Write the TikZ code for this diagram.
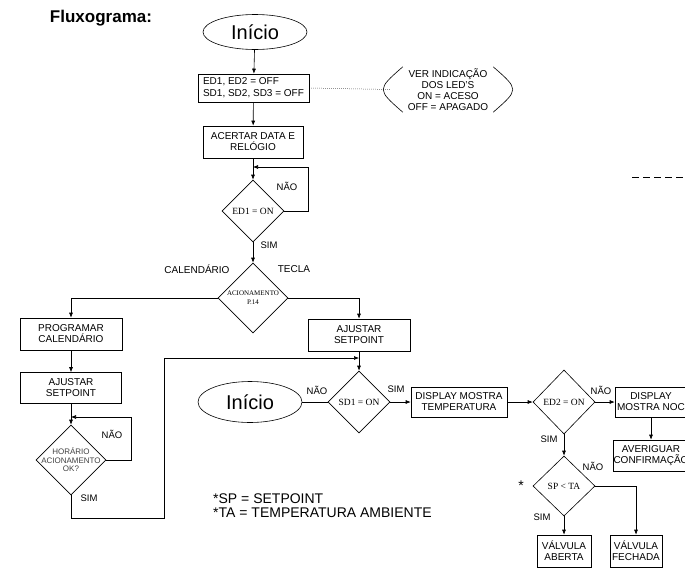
\documentclass[tikz,border=0pt]{standalone}
\usepackage{fontspec}
\setmainfont{Liberation Sans}
\newfontfamily\serifa{Liberation Serif}
\usetikzlibrary{shapes.geometric,arrows.meta}

\begin{document}
\begin{tikzpicture}[
    x=1pt, y=1pt,
    every node/.style={font=\fontsize{10}{11}\selectfont, align=center, inner sep=0pt},
    caixa/.style={draw, line width=0.6pt, minimum width=#1, minimum height=31},
    losango/.style={draw, diamond, line width=0.6pt, minimum width=#1, minimum height=#1,
                    font=\serifa\fontsize{9.5}{11}\selectfont},
    elipse/.style={draw, ellipse, line width=0.6pt, font=\fontsize{20}{22}\selectfont},
    seta/.style={-{Latex[length=5pt,width=4pt]}, line width=0.6pt},
    linha/.style={line width=0.6pt},
    pontilhado/.style={line width=0.5pt, dash pattern=on 0.6pt off 1.4pt},
    rot/.style={font=\fontsize{9.5}{11}\selectfont}
]
  \useasboundingbox (0,0) rectangle (685,-568);
  \clip (0,0) rectangle (685,-568);

  % Titulo
  \node[font=\bfseries\fontsize{17}{20}\selectfont] (titulo) at (101,-18) {Fluxograma:};

  % Inicio e estado dos LEDs
  \node[elipse, minimum width=104, minimum height=35] (inicio) at (255,-32) {Início};
  \node[caixa=111, minimum height=28, align=left, font=\fontsize{10}{12}\selectfont] (estado) at (253.5,-88)
       {ED1, ED2 = OFF\\SD1, SD2, SD3 = OFF};
  \node[minimum width=90, minimum height=45] (nota) at (448,-89.5)
       {VER INDICAÇÃO\\DOS LED'S\\ON = ACESO\\OFF = APAGADO};
  \draw[linha] (nota.north west) .. controls ([xshift=-26pt]nota.west) .. (nota.south west);
  \draw[linha] (nota.north east) .. controls ([xshift=26pt]nota.east) .. (nota.south east);
  \draw[pontilhado] (estado.east) -- ([xshift=-13pt]nota.west);

  \node[caixa=100, minimum height=32] (acertar) at (253,-142) {ACERTAR DATA E\\RELÓGIO};
  \node[losango=62] (ed1) at (253,-211) {ED1 = ON};
  \coordinate (retorno1) at (253,-167);
  \node[rot] (nao1) at (287,-186) {NÃO};
  \node[rot] (sim1) at (269,-245) {SIM};

  % Modo de acionamento
  \node[losango=70, font=\serifa\fontsize{7}{9}\selectfont] (acion) at (253,-298) {ACIONAMENTO\\P.14};
  \node[font=\fontsize{10}{11}\selectfont] (calend) at (197,-269) {CALENDÁRIO};
  \node[font=\fontsize{10}{11}\selectfont] (tecla) at (294,-269) {TECLA};

  % Ramo do calendario
  \node[caixa=102, minimum height=32] (programar) at (71,-334) {PROGRAMAR\\CALENDÁRIO};
  \node[caixa=101] (ajustarA) at (71,-388) {AJUSTAR\\SETPOINT};
  \node[losango=70, inner sep=-4pt, text=black!75, font=\fontsize{8}{8.5}\selectfont] (horario) at (71,-460)
       {HORÁRIO\\ACIONAMENTO\\OK?};
  \coordinate (retorno2) at (71,-417);
  \coordinate (desvio) at (164,-518);
  \node[rot] (nao2) at (112,-434) {NÃO};
  \node[rot] (sim2) at (89,-498) {SIM};

  % Ramo da tecla
  \node[caixa=102, minimum height=32] (ajustarB) at (359,-335) {AJUSTAR\\SETPOINT};
  \coordinate (entrada) at (359,-358);
  \node[losango=62] (sd1) at (359,-402) {SD1 = ON};
  \node[elipse, minimum width=104, minimum height=41] (inicio2) at (250,-402) {Início};
  \node[rot] (nao3) at (317,-390) {NÃO};
  \node[rot] (sim3) at (396,-389) {SIM};

  \node[caixa=96, minimum height=30] (dispT) at (459,-402) {DISPLAY MOSTRA\\TEMPERATURA};
  \node[losango=62, minimum height=64] (ed2) at (564,-402) {ED2 = ON};
  \node[caixa=72, minimum height=30] (dispN) at (651,-402) {DISPLAY\\MOSTRA NOC};
  \node[caixa=76] (averiguar) at (651,-455.5) {AVERIGUAR\\CONFIRMAÇÃO};
  \node[rot] (nao4) at (601,-390) {NÃO};
  \node[rot] (sim4) at (549,-439) {SIM};

  % Comparacao SP x TA
  \node[losango=62, minimum height=60] (spta) at (564,-486) {SP < TA};
  \node[font=\fontsize{14}{14}\selectfont] (asterisco) at (521,-486) {*};
  \node[rot] (nao5) at (593,-466) {NÃO};
  \node[rot] (sim5) at (542,-517) {SIM};
  \node[caixa=54, minimum height=32] (aberta) at (564,-551) {VÁLVULA\\ABERTA};
  \node[caixa=52, minimum height=32] (fechada) at (636,-551) {VÁLVULA\\FECHADA};

  % Legenda
  \node[font=\fontsize{14}{14}\selectfont, align=left, anchor=west] (legenda) at (213,-506)
       {*SP = SETPOINT\\*TA = TEMPERATURA AMBIENTE};

  % Tracejado solto a direita
  \coordinate (tracoA) at (632,-177);
  \coordinate (tracoB) at (685,-177);
  \draw[linha, dash pattern=on 7pt off 4pt] (tracoA) -- (tracoB);

  % Ligacoes
  \draw[seta] (inicio) -- (estado);
  \draw[seta] (estado) -- (acertar);
  \draw[seta] (acertar) -- (ed1);
  \draw[seta] (ed1.east) -- ++(24,0) |- (retorno1);
  \draw[seta] (ed1) -- (acion);
  \draw[seta] (acion.west) -| (programar.north);
  \draw[seta] (acion.east) -| (ajustarB.north);
  \draw[seta] (programar) -- (ajustarA);
  \draw[seta] (ajustarA) -- (horario);
  \draw[seta] (horario.east) -- ++(25,0) |- (retorno2);
  \draw[seta] (horario.south) |- (desvio) |- (entrada);
  \draw[seta] (ajustarB) -- (sd1);
  \draw[linha] (sd1) -- (inicio2);
  \draw[seta] (sd1) -- (dispT);
  \draw[seta] (dispT) -- (ed2);
  \draw[seta] (ed2) -- (dispN);
  \draw[seta] (dispN) -- (averiguar);
  \draw[seta] (ed2) -- (spta);
  \draw[seta] (spta) -- (aberta);
  \draw[seta] (spta.east) -| (fechada.north);
\end{tikzpicture}
\end{document}
